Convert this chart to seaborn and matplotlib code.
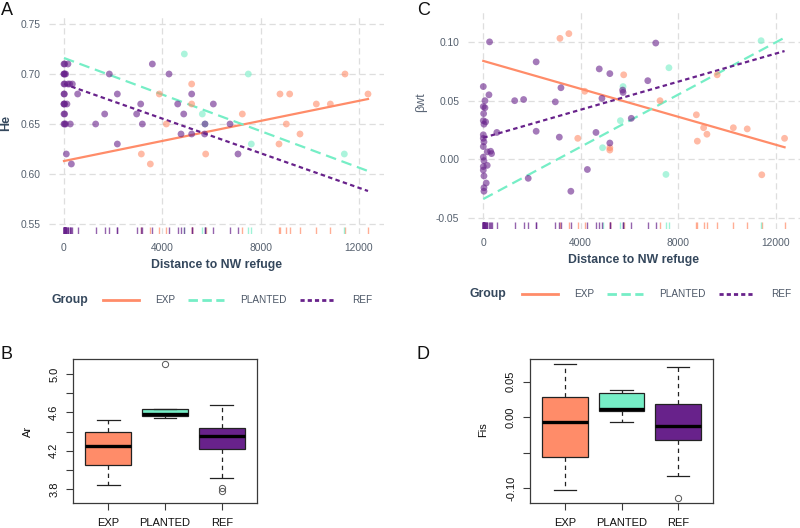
import numpy as np
import pandas as pd
import matplotlib
matplotlib.use('Agg')
import matplotlib.pyplot as plt
from matplotlib.lines import Line2D
import seaborn as sns

plt.rcParams['font.family'] = ['Liberation Sans Narrow', 'Liberation Sans', 'DejaVu Sans']
plt.rcParams['axes.unicode_minus'] = False

groups = ['EXP', 'PLANTED', 'REF']
palette = {'EXP': '#FF8C69', 'PLANTED': '#76EEC6', 'REF': '#68228B'}

# ---- populations: distance to NW refuge, He, beta_wt ----
dist_exp = [3146, 3512, 3878, 4163, 5193, 5193, 5763, 7254, 8746, 8786, 9044, 9180, 9600, 10264, 10834, 11431, 12366]
he_exp = [0.62, 0.61, 0.68, 0.65, 0.69, 0.67, 0.62, 0.66, 0.63, 0.68, 0.65, 0.68, 0.64, 0.67, 0.67, 0.70, 0.68]
bwt_exp = [0.103, 0.107, 0.018, 0.058, 0.010, 0.008, 0.072, 0.050, 0.038, 0.0156, 0.027, 0.0215, 0.072, 0.027, 0.026, -0.013, 0.018]

dist_pl = [4895, 5627, 5736, 7498, 7620, 11403]
he_pl = [0.72, 0.66, 0.65, 0.70, 0.63, 0.62]
bwt_pl = [0.010, 0.033, 0.062, -0.0127, 0.078, 0.101]

dist_ref = [0, 232, 68, 0, 68, 14, 0, 95, 27, 0, 0, 27, 0, 160, 300, 340, 0, 27, 160, 0, 0, 27, 120, 27, 27, 257,
            556, 1288, 1655, 1844, 2170, 2170, 2956, 3120, 3187, 3594, 4272, 4625, 4760, 4870, 5194, 5194, 5720, 5736,
            6075, 6752, 7078]
he_ref = [0.71, 0.69, 0.70, 0.70, 0.65, 0.68, 0.69, 0.62, 0.70, 0.67, 0.66, 0.67, 0.65, 0.71, 0.61, 0.69, 0.68, 0.69,
          0.69, 0.70, 0.67, 0.66, 0.67, 0.65, 0.71, 0.65,
          0.68, 0.65, 0.66, 0.70, 0.68, 0.63, 0.66, 0.67, 0.65, 0.71, 0.70, 0.67, 0.64, 0.66, 0.68, 0.64, 0.64, 0.65,
          0.67, 0.65, 0.62]
bwt_ref = [0.062, 0.055, 0.050, 0.045, 0.044, 0.039, 0.033, 0.032, 0.030, 0.021, 0.018, 0.015, 0.011, 0.0065, 0.007,
           0.005, 0.002, -0.001, -0.005, -0.006, -0.009, -0.014, -0.020, -0.024, -0.027, 0.100,
           0.023, 0.050, 0.051, -0.016, 0.083, 0.024, 0.049, 0.019, 0.061, -0.027, -0.0085, 0.023, 0.077, 0.052,
           0.073, 0.014, 0.059, 0.057, 0.035, 0.067, 0.099]

# ---- fitted trend lines (values at start / end of distance range) ----
fit_dist = [0, 12366]
fit_he_exp = [0.613, 0.675]
fit_he_pl = [0.716, 0.603]
fit_he_ref = [0.690, 0.583]
fit_bwt_exp = [0.0838, 0.0104]
fit_bwt_pl = [-0.0336, 0.1036]
fit_bwt_ref = [0.0185, 0.0922]

# ---- box plot data ----
ar_exp = [3.84, 4.05, 4.25, 4.39, 4.52]
ar_pl = [4.545, 4.56, 4.58, 4.63, 5.10]
ar_ref = [3.775, 3.81, 3.915, 4.22, 4.25, 4.30, 4.35, 4.38, 4.40, 4.44, 4.50, 4.60, 4.68]
fis_exp = [-0.1028, -0.0559, -0.0062, 0.0282, 0.0751]
fis_pl = [-0.007, 0.0089, 0.0121, 0.0347, 0.0385]
fis_ref = [-0.1137, -0.0823, -0.0324, -0.02, -0.0127, 0.0, 0.0183, 0.05, 0.0704]

df = pd.DataFrame({
    'dist': dist_exp + dist_pl + dist_ref,
    'He': he_exp + he_pl + he_ref,
    'bwt': bwt_exp + bwt_pl + bwt_ref,
    'group': ['EXP'] * len(dist_exp) + ['PLANTED'] * len(dist_pl) + ['REF'] * len(dist_ref),
})
fit_df = pd.DataFrame({
    'dist': fit_dist * 3,
    'He': fit_he_exp + fit_he_pl + fit_he_ref,
    'bwt': fit_bwt_exp + fit_bwt_pl + fit_bwt_ref,
    'group': ['EXP'] * 2 + ['PLANTED'] * 2 + ['REF'] * 2,
})
dfA = pd.DataFrame({'group': ['EXP'] * len(ar_exp) + ['PLANTED'] * len(ar_pl) + ['REF'] * len(ar_ref),
                    'Ar': ar_exp + ar_pl + ar_ref})
dfF = pd.DataFrame({'group': ['EXP'] * len(fis_exp) + ['PLANTED'] * len(fis_pl) + ['REF'] * len(fis_ref),
                    'Fis': fis_exp + fis_pl + fis_ref})

W, H = 800, 528
fig = plt.figure(figsize=(8, 5.28), dpi=100)


def box(l, t, r, b):
    return [l / W, 1 - b / H, (r - l) / W, (b - t) / H]


axA = fig.add_axes(box(48.8, 14, 384, 234))
axC = fig.add_axes(box(468, 10, 800, 229))
axB = fig.add_axes(box(73, 359, 257, 503))
axD = fig.add_axes(box(530, 359, 713, 503))

dashes = {'EXP': '', 'PLANTED': (4.8, 2.6), 'REF': (2.0, 1.5)}
title_col = '#34475C'
tick_col = '#55606E'
SANS = ['Liberation Sans', 'DejaVu Sans']

for ax, ycol, xlim, ylim, yticks in [
        (axA, 'He', (-618, 13017), (0.54, 0.76), [0.55, 0.60, 0.65, 0.70, 0.75]),
        (axC, 'bwt', (-628, 13000), (-0.0591, 0.1271), [-0.05, 0.00, 0.05, 0.10])]:
    ax.set_xlim(xlim)
    ax.set_ylim(ylim)
    sns.lineplot(data=fit_df, x='dist', y=ycol, hue='group', style='group', palette=palette,
                 dashes=dashes, linewidth=1.6, legend=False, ax=ax)
    sns.scatterplot(data=df, x='dist', y=ycol, hue='group', palette=palette, s=24, alpha=0.6,
                    linewidth=0, legend=False, ax=ax, zorder=3)
    sns.rugplot(data=df, x='dist', hue='group', palette=palette, height=0.033, lw=1, alpha=0.7,
                legend=False, expand_margins=False, ax=ax)
    ax.set_xlim(xlim)
    ax.set_ylim(ylim)
    ax.set_xticks([0, 4000, 8000, 12000])
    ax.set_xticklabels(['0', '4000', '8000', '12000'])
    ax.set_yticks(yticks)
    ax.set_yticklabels(['%.2f' % v for v in yticks])
    for s in ax.spines.values():
        s.set_visible(False)
    ax.grid(True, color='#DEDEDE', lw=0.9, ls=(0, (5, 3)))
    ax.set_axisbelow(True)
    ax.tick_params(length=0, labelsize=7.4, labelcolor=tick_col)
    ax.tick_params(axis='y', pad=6.2)
    ax.tick_params(axis='x', pad=6.2)
    ax.set_xlabel('Distance to NW refuge', fontsize=8.8, fontweight='bold', color=title_col, family=SANS)
    ax.xaxis.label.set_va('center')

axA.xaxis.set_label_coords(0.5, -0.141)
axC.xaxis.set_label_coords(0.5, -0.142)
axA.set_ylabel('He', fontsize=9, fontweight='bold', color=title_col, family=SANS)
axA.yaxis.label.set_va('center')
axA.yaxis.set_label_coords(-0.127, 0.504)
axC.set_ylabel('βwt', fontsize=9, color='#5B6676', family=SANS)
axC.yaxis.label.set_va('center')
axC.yaxis.set_label_coords(-0.1425, 0.58)

# legends
def handles(lw=2.0):
    return [Line2D([], [], color=palette['EXP'], lw=lw, ls='-'),
            Line2D([], [], color=palette['PLANTED'], lw=lw, ls=(0, (3.4, 1.6))),
            Line2D([], [], color=palette['REF'], lw=lw, ls=(0, (1.5, 1.1)))]


for gx, lx, ly in [(51, 103, 300), (470, 522, 294)]:
    fig.text(gx / W, 1 - ly / H, 'Group', fontsize=8.8, fontweight='bold', color=title_col,
             family=SANS, va='center', ha='left')
    fig.legend(handles(), groups, loc='center left', bbox_to_anchor=(lx / W, 1 - ly / H), ncol=3,
               frameon=False, handlelength=3.6, handletextpad=1.62, columnspacing=1.3,
               borderpad=0, borderaxespad=0, labelcolor='#4A5565',
               prop={'family': ['Liberation Sans Narrow', 'Liberation Sans', 'DejaVu Sans'], 'size': 7.2})

# box plots
for ax, data, ycol, ylim, yt, ytl, lab, lx, ly in [
        (axB, dfA, 'Ar', (3.654, 5.157), [3.8, 4.0, 4.2, 4.4, 4.6, 4.8, 5.0],
         ['3.8', '', '4.2', '', '4.6', '', '5.0'], 'Ar', -0.2446, 0.495),
        (axD, dfF, 'Fis', (-0.1207, 0.0821), [-0.10, -0.05, 0.00, 0.05],
         ['-0.10', '', '0.00', '0.05'], 'Fis', -0.257, 0.507)]:
    sns.boxplot(data=data, x='group', y=ycol, hue='group', order=groups, palette=palette, saturation=1,
                width=0.8, linewidth=0.9, linecolor='#222222', whis=1.5, legend=False, ax=ax,
                flierprops={'marker': 'o', 'markerfacecolor': 'none', 'markeredgecolor': '#555555',
                            'markersize': 4.5, 'markeredgewidth': 0.7},
                medianprops={'color': 'black', 'linewidth': 2.4},
                whiskerprops={'linestyle': (0, (3.5, 3)), 'color': '#222222'},
                capprops={'color': '#222222'})
    ax.set_xlim(-0.62, 2.62)
    ax.set_ylim(ylim)
    ax.set_yticks(yt)
    ax.set_yticklabels(ytl)
    for s in ax.spines.values():
        s.set_visible(True)
        s.set_color('#3A3A3A')
        s.set_linewidth(0.9)
    ax.tick_params(direction='out', length=5, width=0.8, color='#3A3A3A', labelsize=8, labelcolor='#111111')
    ax.tick_params(axis='y', labelrotation=90, pad=5)
    ax.tick_params(axis='x', pad=5.5)
    for lbl in ax.get_xticklabels() + ax.get_yticklabels():
        lbl.set_fontfamily(SANS)
    for lbl in ax.get_yticklabels():
        lbl.set_va('center')
    ax.set_xlabel('')
    ax.set_ylabel(lab, fontsize=8, color='#111111', family=SANS)
    ax.yaxis.label.set_va('center')
    ax.yaxis.set_label_coords(lx, ly)

# panel letters
for ch, x, y in [('A', 0.5, 15), ('B', 0.5, 359), ('C', 417, 15), ('D', 417, 359)]:
    fig.text(x / W, 1 - y / H, ch, fontsize=13, family=SANS, va='baseline', ha='left', color='#111111')

fig.savefig('out.png', dpi=100)
